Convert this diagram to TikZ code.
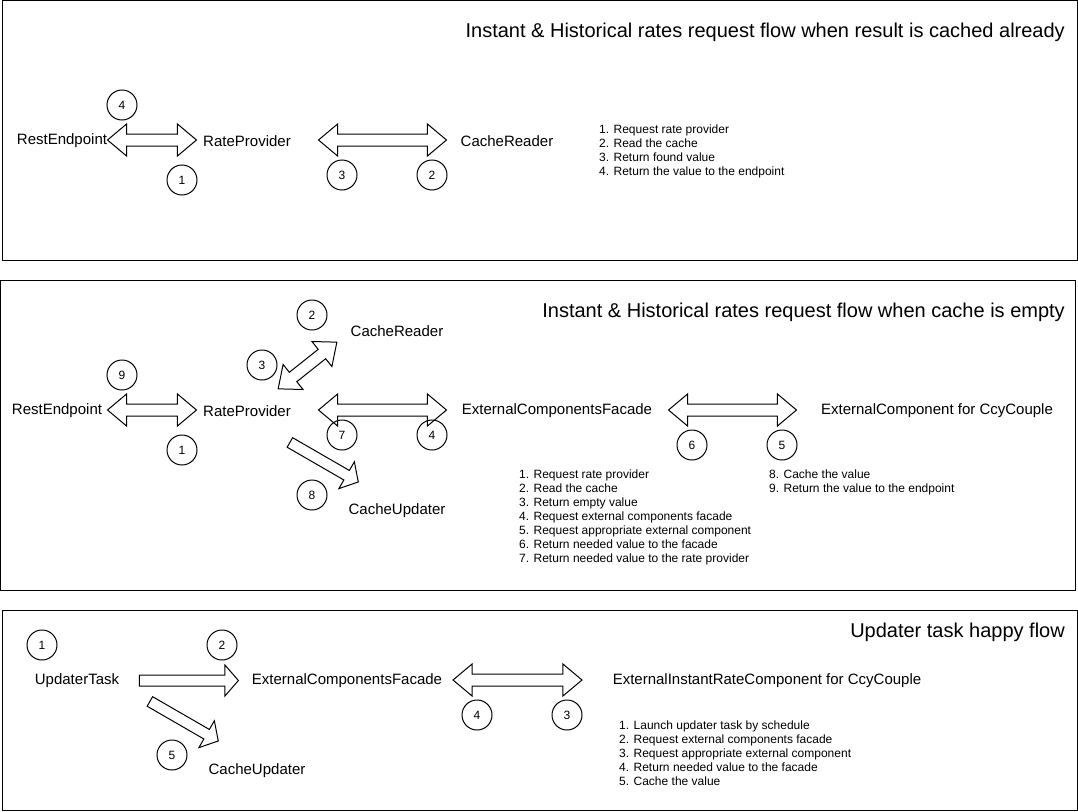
\documentclass[tikz,border=0pt]{standalone}
\usepackage{fontspec}
\setmainfont{Liberation Sans}
\usetikzlibrary{shapes.arrows}
\usetikzlibrary{positioning}

\tikzset{
  panel/.style={draw, line width=1pt},
  lbl/.style={font=\fontsize{15}{18}\selectfont, inner sep=0},
  title/.style={font=\fontsize{20}{24}\selectfont, anchor=east, inner sep=0},
  num/.style={draw, circle, line width=1pt, minimum size=30pt, inner sep=0, font=\fontsize{12}{14}\selectfont},
  steps/.style={font=\fontsize{12}{14}\selectfont, align=left, anchor=west, inner sep=0},
  dblarrow/.style={double arrow, draw, line width=1pt, inner xsep=0, inner ysep=5.5pt,
    double arrow head extend=10pt, double arrow tip angle=80, minimum height=#1},
  sglarrow/.style={single arrow, draw, line width=1pt, inner xsep=0, inner ysep=5pt,
    single arrow head extend=10pt, single arrow tip angle=98, minimum height=#1},
}

\begin{document}
\begin{tikzpicture}[x=1pt, y=-1pt]
    \useasboundingbox (0,0) rectangle (1078,811);

    % result cached already
    \draw[panel] (2.5,0.5) rectangle (1077,260.5);
    \node[title] (titleA) at (1065,32) {Instant \& Historical rates request flow when result is cached already};
    \node[lbl] (restA) at (62,141) {RestEndpoint};
    \node[lbl] (rateA) at (247,141) {RateProvider};
    \node[lbl] (readerA) at (507,141) {CacheReader};
    \node[dblarrow=89] (arrA1) at (152,140) {};
    \node[dblarrow=128] (arrA2) at (382.5,140) {};
    \node[num] (nA4) at (122,105) {4};
    \node[num] (nA1) at (182,180) {1};
    \node[num] (nA3) at (342,175) {3};
    \node[num] (nA2) at (432,175) {2};
    \node[steps] (stepsA) at (599,151.5) {1. Request rate provider\\2. Read the cache\\3. Return found value\\4. Return the value to the endpoint};

    % cache is empty
    \draw[panel] (0.5,280.5) rectangle (1075,590);
    \node[title] (titleB) at (1065,312) {Instant \& Historical rates request flow when cache is empty};
    \node[lbl] (restB) at (57,411) {RestEndpoint};
    \node[lbl] (rateB) at (247,411) {RateProvider};
    \node[lbl] (readerB) at (397,331) {CacheReader};
    \node[lbl] (facadeB) at (557,411) {ExternalComponentsFacade};
    \node[lbl] (extB) at (937,411) {ExternalComponent for CcyCouple};
    \node[lbl] (updaterB) at (397,511) {CacheUpdater};
    \node[dblarrow=89] (arrB1) at (152,410) {};
    \node[dblarrow=128] (arrB2) at (382.5,410) {};
    \node[dblarrow=128] (arrB3) at (732.5,410) {};
    \node[dblarrow=75, rotate=38.5] (arrB4) at (307.5,365.5) {};
    \node[sglarrow=79, rotate=-30] (arrB5) at (322,461) {};
    \node[num] (nB2) at (312,315) {2};
    \node[num] (nB3) at (262,365) {3};
    \node[num] (nB9) at (122,375) {9};
    \node[num] (nB1) at (182,450) {1};
    \node[num] (nB7) at (342,435) {7};
    \node[num] (nB4) at (432,435) {4};
    \node[num] (nB8) at (312,495) {8};
    \node[num] (nB6) at (692,445) {6};
    \node[num] (nB5) at (782,445) {5};
    \node[steps] (stepsB) at (519,517.5) {1. Request rate provider\\2. Read the cache\\3. Return empty value\\4. Request external components facade\\5. Request appropriate external component\\6. Return needed value to the facade\\7. Return needed value to the rate provider};
    \node[steps] (stepsB2) at (769,482.5) {8. Cache the value\\9. Return the value to the endpoint};

    % updater task
    \draw[panel] (2.5,610) rectangle (1077,810);
    \node[title] (titleC) at (1065,632) {Updater task happy flow};
    \node[lbl] (taskC) at (77,681) {UpdaterTask};
    \node[lbl] (facadeC) at (347,681) {ExternalComponentsFacade};
    \node[lbl] (extC) at (767,681) {ExternalInstantRateComponent for CcyCouple};
    \node[lbl] (updaterC) at (257,771) {CacheUpdater};
    \node[sglarrow=99] (arrC1) at (186.5,680.5) {};
    \node[sglarrow=79, rotate=-30] (arrC2) at (182,720) {};
    \node[dblarrow=129] (arrC3) at (517.5,680) {};
    \node[num] (nC1) at (42,645) {1};
    \node[num] (nC2) at (222,645) {2};
    \node[num] (nC5) at (172,755) {5};
    \node[num] (nC4) at (477,715) {4};
    \node[num] (nC3) at (567,715) {3};
    \node[steps] (stepsC) at (619,753.5) {1. Launch updater task by schedule\\2. Request external components facade\\3. Request appropriate external component\\4. Return needed value to the facade\\5. Cache the value};

  \end{tikzpicture}
\end{document}
